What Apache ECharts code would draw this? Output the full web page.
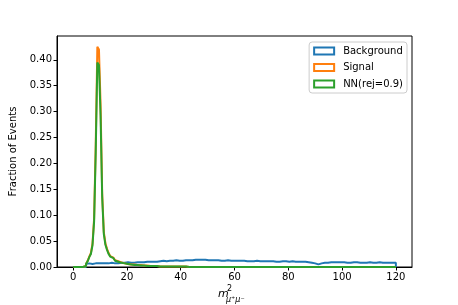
<!DOCTYPE html>
<html><head><meta charset="utf-8">
<script src="https://cdn.jsdelivr.net/npm/echarts@6/dist/echarts.min.js"></script>
<style>html,body{margin:0;padding:0;background:#fff}#c{width:458px;height:305px}</style>
</head><body><div id="c"></div>
<script>
// Histogram: 200 bins of width 0.6 from 0 to 120
const binStart = 0;
const binWidth = 0.6;
const seriesNames = ['Background', 'Signal', 'NN(rej=0.9)'];
const xTicks = [0, 20, 40, 60, 80, 100, 120];
const yTicks = [0, 0.05, 0.10, 0.15, 0.20, 0.25, 0.30, 0.35, 0.40];

const background = [
  0,0,0,0,0,0,0,0,0.006,0.007,
  0.007,0.006,0.007,0.007,0.006,0.007,0.007,0.007,0.006,0.007,
  0.007,0.007,0.007,0.008,0.007,0.007,0.008,0.007,0.008,0.008,
  0.008,0.008,0.008,0.009,0.008,0.008,0.009,0.008,0.009,0.009,
  0.009,0.009,0.010,0.009,0.010,0.010,0.010,0.010,0.011,0.010,
  0.011,0.010,0.011,0.011,0.011,0.012,0.011,0.011,0.012,0.012,
  0.012,0.012,0.012,0.013,0.012,0.012,0.013,0.012,0.013,0.013,
  0.013,0.013,0.014,0.013,0.014,0.014,0.013,0.014,0.015,0.014,
  0.015,0.014,0.014,0.013,0.014,0.013,0.013,0.013,0.012,0.013,
  0.013,0.012,0.013,0.012,0.012,0.013,0.012,0.012,0.012,0.012,
  0.012,0.012,0.011,0.012,0.011,0.012,0.011,0.011,0.012,0.011,
  0.011,0.011,0.011,0.012,0.011,0.011,0.011,0.011,0.010,0.011,
  0.011,0.011,0.010,0.011,0.011,0.010,0.011,0.010,0.010,0.011,
  0.010,0.011,0.010,0.010,0.010,0.011,0.010,0.010,0.010,0.010,
  0.010,0.010,0.009,0.010,0.009,0.009,0.009,0.008,0.008,0.007,
  0.006,0.005,0.006,0.007,0.008,0.008,0.009,0.008,0.009,0.009,
  0.009,0.009,0.008,0.009,0.009,0.009,0.008,0.009,0.009,0.008,
  0.009,0.008,0.009,0.009,0.008,0.009,0.008,0.008,0.009,0.008,
  0.009,0.008,0.008,0.009,0.008,0.008,0.009,0.008,0.008,0.009,
  0.008,0.008,0.009,0.008,0.008,0.008,0.009,0.008,0.008,0.008
];
const signal = [
  0,0,0,0,0,0,0,0.002,0.006,0.012,
  0.020,0.027,0.045,0.094,0.236,0.425,0.420,0.315,0.142,0.068,
  0.046,0.035,0.027,0.021,0.018,0.015,0.013,0.011,0.010,0.009,
  0.008,0.007,0.007,0.006,0.006,0.005,0.005,0.005,0.004,0.004,
  0.004,0.004,0.003,0.003,0.003,0.003,0.002,0.002,0.002,0.002,
  0.002,0.002,0.002,0.001,0.001,0.001,0.001,0.001,0.001,0.001,
  0.001,0.001,0.001,0.001,0.001,0.001,0.001,0.001,0.001,0.001,
  0,0,0,0,0,0,0,0,0,0,
  0,0,0,0,0,0,0,0,0,0,
  0,0,0,0,0,0,0,0,0,0,
  0,0,0,0,0,0,0,0,0,0,
  0,0,0,0,0,0,0,0,0,0,
  0,0,0,0,0,0,0,0,0,0,
  0,0,0,0,0,0,0,0,0,0,
  0,0,0,0,0,0,0,0,0,0,
  0,0,0,0,0,0,0,0,0,0,
  0,0,0,0,0,0,0,0,0,0,
  0,0,0,0,0,0,0,0,0,0,
  0,0,0,0,0,0,0,0,0,0,
  0,0,0,0,0,0,0,0,0,0
];
const nn = [
  0,0,0,0,0,0,0,0.002,0.006,0.011,
  0.019,0.025,0.042,0.088,0.222,0.395,0.390,0.292,0.135,0.064,
  0.043,0.033,0.025,0.020,0.017,0.014,0.012,0.010,0.009,0.008,
  0.007,0.007,0.006,0.006,0.005,0.005,0.005,0.004,0.004,0.004,
  0.003,0.003,0.003,0.003,0.003,0.002,0.002,0.002,0.002,0.002,
  0.002,0.002,0.001,0.001,0.001,0.001,0.001,0.001,0.001,0.001,
  0.001,0.001,0.001,0.001,0.001,0.001,0.001,0.001,0.001,0.001,
  0,0,0,0,0,0,0,0,0,0,
  0,0,0,0,0,0,0,0,0,0,
  0,0,0,0,0,0,0,0,0,0,
  0,0,0,0,0,0,0,0,0,0,
  0,0,0,0,0,0,0,0,0,0,
  0,0,0,0,0,0,0,0,0,0,
  0,0,0,0,0,0,0,0,0,0,
  0,0,0,0,0,0,0,0,0,0,
  0,0,0,0,0,0,0,0,0,0,
  0,0,0,0,0,0,0,0,0,0,
  0,0,0,0,0,0,0,0,0,0,
  0,0,0,0,0,0,0,0,0,0,
  0,0,0,0,0,0,0,0,0,0
];

const colors = ['#1f77b4', '#ff7f0e', '#2ca02c'];

function stepData(vals) {
  const pts = [[binStart, 0]];
  vals.forEach((v, i) => pts.push([binStart + i * binWidth, v]));
  const end = binStart + vals.length * binWidth;
  pts.push([end, vals[vals.length - 1]]);
  pts.push([end, 0]);
  return pts;
}

const font = 'DejaVu Sans';
const chart = echarts.init(document.getElementById('c'), null, {renderer: 'canvas'});
const allSeries = [background, signal, nn];
chart.setOption({
  animation: false,
  backgroundColor: '#fff',
  grid: {left: 57, right: 46, top: 36, bottom: 38, show: true, borderColor: '#000', borderWidth: 1, backgroundColor: 'transparent'},
  legend: {
    orient: 'vertical', right: 51, top: 42,
    backgroundColor: '#fff', borderColor: '#ccc', borderWidth: 1, borderRadius: 3,
    padding: [4, 4, 4, 4], itemGap: 6.5, itemWidth: 20, itemHeight: 7,
    textStyle: {fontFamily: font, fontSize: 10, color: '#000', padding: [0, 0, 0, 4]},
    data: seriesNames.map((n, i) => ({name: n, icon: 'rect', itemStyle: {color: '#fff', borderColor: colors[i], borderWidth: 2}}))
  },
  xAxis: {
    type: 'value', min: -6, max: 126,
    axisLine: {show: true, onZero: false, lineStyle: {color: '#000', width: 1}},
    axisTick: {show: true, inside: false, length: 3.5, lineStyle: {color: '#000'}, customValues: xTicks},
    axisLabel: {customValues: xTicks, fontFamily: font, fontSize: 10, color: '#000', margin: 5},
    splitLine: {show: false}
  },
  yAxis: {
    type: 'value', min: 0, max: 0.446,
    axisLine: {show: true, onZero: false, lineStyle: {color: '#000', width: 1}},
    axisTick: {show: true, inside: false, length: 3.5, lineStyle: {color: '#000'}, customValues: yTicks},
    axisLabel: {customValues: yTicks, fontFamily: font, fontSize: 10, color: '#000', margin: 5, formatter: v => v.toFixed(2)},
    splitLine: {show: false},
    name: 'Fraction of Events', nameLocation: 'middle', nameGap: 37,
    nameTextStyle: {fontFamily: font, fontSize: 10, color: '#000'}
  },
  graphic: [
    {type: 'text', left: 218, top: 289, style: {text: 'm', font: 'italic 11px DejaVu Sans', fill: '#000'}},
    {type: 'text', left: 227, top: 285, style: {text: '2', font: '8px DejaVu Sans', fill: '#000'}},
    {type: 'text', left: 226, top: 296, style: {text: 'μ⁺μ⁻', font: 'italic 8px DejaVu Sans', fill: '#000'}}
  ],
  series: allSeries.map((vals, i) => ({
    name: seriesNames[i], type: 'line', step: 'end', data: stepData(vals),
    showSymbol: false, symbol: 'none', clip: true,
    lineStyle: {color: colors[i], width: 2}, itemStyle: {color: colors[i]},
    z: 2 + i
  }))
});
</script></body></html>
